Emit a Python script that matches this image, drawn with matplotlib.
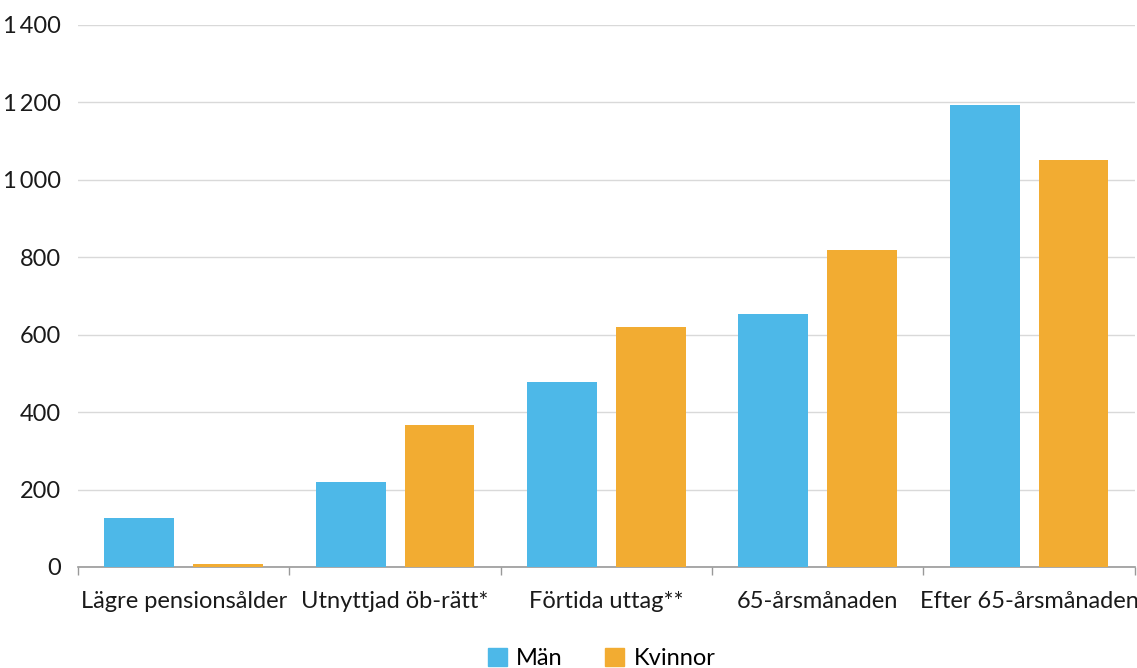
import numpy as np
import matplotlib.pyplot as plt
from matplotlib.patches import Patch

plt.rcParams['font.family'] = ['Lato', 'DejaVu Sans']

categories = ['Lägre pensionsålder', 'Utnyttjad öb-rätt*', 'Förtida uttag**',
              '65-årsmånaden', 'Efter 65-årsmånaden']
man = [126, 220, 478, 653, 1193]
kvinnor = [8, 367, 620, 819, 1051]
yticks = [0, 200, 400, 600, 800, 1000, 1200, 1400]

blue = '#4DB8E8'
orange = '#F2AC32'

fig = plt.figure(figsize=(11.37, 6.68), dpi=100)
ax = fig.add_axes([0.0686, 0.1512, 0.9294, 0.8114])

x = np.arange(len(categories))
w = 0.33
ax.bar(x - 0.21, man, w, color=blue, zorder=3)
ax.bar(x + 0.21, kvinnor, w, color=orange, zorder=3)

ax.set_xlim(-0.5, len(categories) - 0.5)
ax.set_ylim(0, 1400)
ax.set_yticks(yticks)
ax.set_yticklabels([f'{v:,}'.replace(',', '\u2009') for v in yticks], fontsize=17)
ax.yaxis.grid(True, color='#d9d9d9', linewidth=1, zorder=0)
ax.tick_params(axis='y', length=0, pad=12, colors='#1a1a1a')

ax.set_xticks(x)
ax.set_xticklabels(categories, fontsize=17, color='#1a1a1a')
ax.tick_params(axis='x', which='major', length=0, pad=17)
ax.set_xticks(np.arange(-0.5, len(categories)), minor=True)
ax.tick_params(axis='x', which='minor', length=6, color='#999999', width=1)

for s in ['top', 'right', 'left']:
    ax.spines[s].set_visible(False)
ax.spines['bottom'].set_color('#999999')
ax.spines['bottom'].set_linewidth(1.2)

handles = [Patch(color=blue, label='Män'), Patch(color=orange, label='Kvinnor')]
fig.legend(handles=handles, loc='lower center', bbox_to_anchor=(0.529, -0.034), ncol=2,
           frameon=False, fontsize=17, handlelength=0.8, handleheight=0.8,
           handletextpad=0.4, columnspacing=1.8)

fig.savefig('out.png', dpi=100)
